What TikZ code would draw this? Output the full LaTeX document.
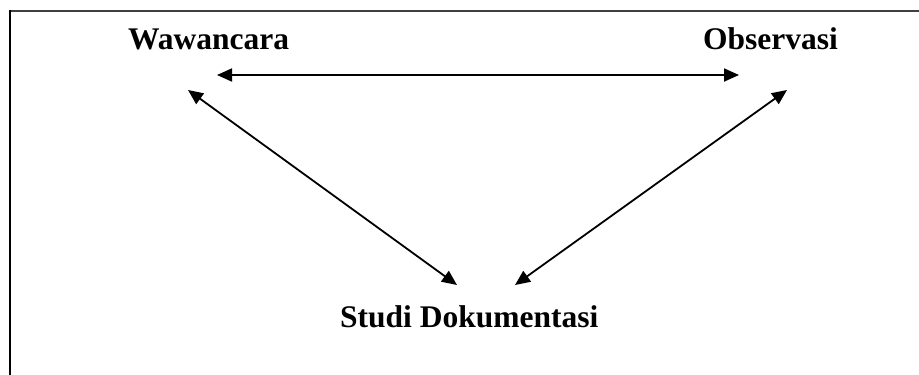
\documentclass[tikz,border=0pt]{standalone}
\usepackage{fontspec}
\setmainfont{Liberation Serif}
\usetikzlibrary{arrows.meta}
\begin{document}
\begin{tikzpicture}[x=1pt,y=-1pt,
  label/.style={inner sep=0pt,anchor=base west,font=\fontsize{31.5}{36}\selectfont\bfseries},
  link/.style={line width=1.8pt,{Triangle[length=15pt,width=13pt]}-{Triangle[length=15pt,width=13pt]}}]
  \useasboundingbox (0,0) rectangle (919,375);
  % frame: top and left edges
  \draw[line width=2pt,black!75] (9,10.5) -- (919,10.5);
  \draw[line width=2.4pt] (10,9.5) -- (10,375);
  % labels
  \node[label] (waw) at (128,49) {Wawancara};
  \node[label] (obs) at (703,49) {Observasi};
  \node[label] (studi) at (340,327) {Studi Dokumentasi};
  % arrow end points
  \coordinate (wr) at (217,75);
  \coordinate (ol) at (739,75);
  \coordinate (wd) at (188,90);
  \coordinate (od) at (787,90);
  \coordinate (sl) at (457,285);
  \coordinate (sr) at (515,285);
  % connectors
  \draw[link] (wr) -- (ol);
  \draw[link] (wd) -- (sl);
  \draw[link] (od) -- (sr);
\end{tikzpicture}
\end{document}
